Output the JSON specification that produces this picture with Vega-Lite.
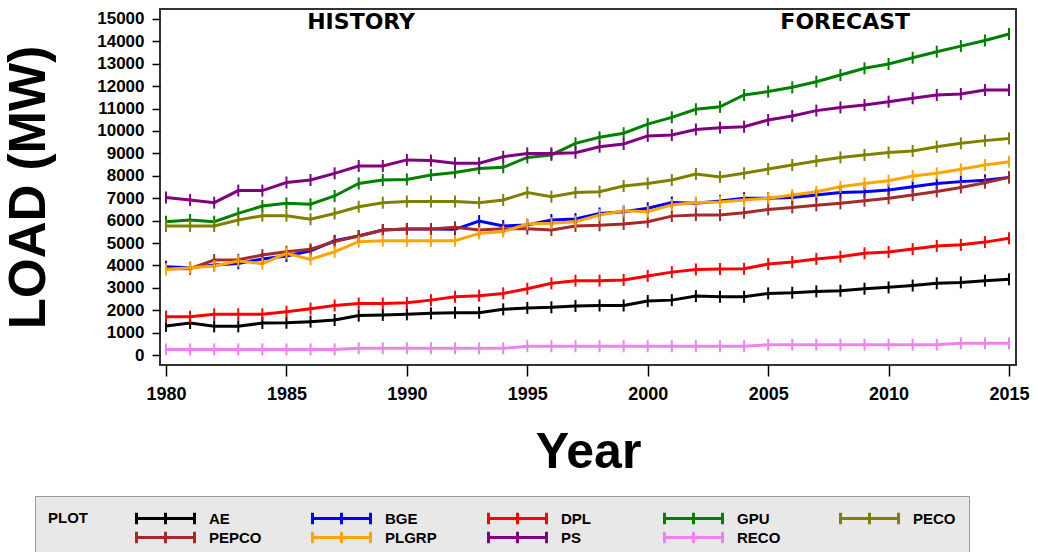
{
"$schema": "https://vega.github.io/schema/vega-lite/v6.json",
"width": 856, "height": 356,
"autosize": {"type": "none"},
"padding": {"left": 160, "top": 9, "right": 21, "bottom": 187},
"background": "white",
"config": {"view": {"stroke": "#333333", "strokeWidth": 2}, "font": "Liberation Sans"},
"datasets": {
"loads": [
{"year":1980,"utility":"AE","load":1300},{"year":1981,"utility":"AE","load":1430},{"year":1982,"utility":"AE","load":1280},{"year":1983,"utility":"AE","load":1280},{"year":1984,"utility":"AE","load":1430},{"year":1985,"utility":"AE","load":1440},{"year":1986,"utility":"AE","load":1490},{"year":1987,"utility":"AE","load":1560},{"year":1988,"utility":"AE","load":1760},{"year":1989,"utility":"AE","load":1790},{"year":1990,"utility":"AE","load":1815},{"year":1991,"utility":"AE","load":1860},{"year":1992,"utility":"AE","load":1890},{"year":1993,"utility":"AE","load":1890},{"year":1994,"utility":"AE","load":2040},{"year":1995,"utility":"AE","load":2100},{"year":1996,"utility":"AE","load":2130},{"year":1997,"utility":"AE","load":2190},{"year":1998,"utility":"AE","load":2210},{"year":1999,"utility":"AE","load":2210},{"year":2000,"utility":"AE","load":2410},{"year":2001,"utility":"AE","load":2450},{"year":2002,"utility":"AE","load":2630},{"year":2003,"utility":"AE","load":2600},{"year":2004,"utility":"AE","load":2600},{"year":2005,"utility":"AE","load":2750},{"year":2006,"utility":"AE","load":2780},{"year":2007,"utility":"AE","load":2840},{"year":2008,"utility":"AE","load":2870},{"year":2009,"utility":"AE","load":2960},{"year":2010,"utility":"AE","load":3020},{"year":2011,"utility":"AE","load":3100},{"year":2012,"utility":"AE","load":3200},{"year":2013,"utility":"AE","load":3240},{"year":2014,"utility":"AE","load":3320},{"year":2015,"utility":"AE","load":3380},
{"year":1980,"utility":"BGE","load":3940},{"year":1981,"utility":"BGE","load":3900},{"year":1982,"utility":"BGE","load":4020},{"year":1983,"utility":"BGE","load":4090},{"year":1984,"utility":"BGE","load":4290},{"year":1985,"utility":"BGE","load":4420},{"year":1986,"utility":"BGE","load":4650},{"year":1987,"utility":"BGE","load":5100},{"year":1988,"utility":"BGE","load":5310},{"year":1989,"utility":"BGE","load":5580},{"year":1990,"utility":"BGE","load":5620},{"year":1991,"utility":"BGE","load":5620},{"year":1992,"utility":"BGE","load":5610},{"year":1993,"utility":"BGE","load":5980},{"year":1994,"utility":"BGE","load":5760},{"year":1995,"utility":"BGE","load":5800},{"year":1996,"utility":"BGE","load":6030},{"year":1997,"utility":"BGE","load":6070},{"year":1998,"utility":"BGE","load":6320},{"year":1999,"utility":"BGE","load":6400},{"year":2000,"utility":"BGE","load":6550},{"year":2001,"utility":"BGE","load":6810},{"year":2002,"utility":"BGE","load":6770},{"year":2003,"utility":"BGE","load":6870},{"year":2004,"utility":"BGE","load":7000},{"year":2005,"utility":"BGE","load":7000},{"year":2006,"utility":"BGE","load":7030},{"year":2007,"utility":"BGE","load":7140},{"year":2008,"utility":"BGE","load":7250},{"year":2009,"utility":"BGE","load":7290},{"year":2010,"utility":"BGE","load":7370},{"year":2011,"utility":"BGE","load":7510},{"year":2012,"utility":"BGE","load":7660},{"year":2013,"utility":"BGE","load":7740},{"year":2014,"utility":"BGE","load":7800},{"year":2015,"utility":"BGE","load":7930},
{"year":1980,"utility":"DPL","load":1710},{"year":1981,"utility":"DPL","load":1710},{"year":1982,"utility":"DPL","load":1815},{"year":1983,"utility":"DPL","load":1815},{"year":1984,"utility":"DPL","load":1815},{"year":1985,"utility":"DPL","load":1935},{"year":1986,"utility":"DPL","load":2070},{"year":1987,"utility":"DPL","load":2210},{"year":1988,"utility":"DPL","load":2300},{"year":1989,"utility":"DPL","load":2300},{"year":1990,"utility":"DPL","load":2330},{"year":1991,"utility":"DPL","load":2450},{"year":1992,"utility":"DPL","load":2600},{"year":1993,"utility":"DPL","load":2650},{"year":1994,"utility":"DPL","load":2750},{"year":1995,"utility":"DPL","load":2960},{"year":1996,"utility":"DPL","load":3200},{"year":1997,"utility":"DPL","load":3320},{"year":1998,"utility":"DPL","load":3320},{"year":1999,"utility":"DPL","load":3350},{"year":2000,"utility":"DPL","load":3530},{"year":2001,"utility":"DPL","load":3700},{"year":2002,"utility":"DPL","load":3820},{"year":2003,"utility":"DPL","load":3840},{"year":2004,"utility":"DPL","load":3850},{"year":2005,"utility":"DPL","load":4060},{"year":2006,"utility":"DPL","load":4150},{"year":2007,"utility":"DPL","load":4290},{"year":2008,"utility":"DPL","load":4390},{"year":2009,"utility":"DPL","load":4540},{"year":2010,"utility":"DPL","load":4600},{"year":2011,"utility":"DPL","load":4730},{"year":2012,"utility":"DPL","load":4870},{"year":2013,"utility":"DPL","load":4920},{"year":2014,"utility":"DPL","load":5040},{"year":2015,"utility":"DPL","load":5210},
{"year":1980,"utility":"GPU","load":5950},{"year":1981,"utility":"GPU","load":6030},{"year":1982,"utility":"GPU","load":5950},{"year":1983,"utility":"GPU","load":6320},{"year":1984,"utility":"GPU","load":6650},{"year":1985,"utility":"GPU","load":6770},{"year":1986,"utility":"GPU","load":6730},{"year":1987,"utility":"GPU","load":7100},{"year":1988,"utility":"GPU","load":7660},{"year":1989,"utility":"GPU","load":7810},{"year":1990,"utility":"GPU","load":7840},{"year":1991,"utility":"GPU","load":8040},{"year":1992,"utility":"GPU","load":8150},{"year":1993,"utility":"GPU","load":8330},{"year":1994,"utility":"GPU","load":8380},{"year":1995,"utility":"GPU","load":8820},{"year":1996,"utility":"GPU","load":8930},{"year":1997,"utility":"GPU","load":9450},{"year":1998,"utility":"GPU","load":9720},{"year":1999,"utility":"GPU","load":9900},{"year":2000,"utility":"GPU","load":10310},{"year":2001,"utility":"GPU","load":10610},{"year":2002,"utility":"GPU","load":10970},{"year":2003,"utility":"GPU","load":11080},{"year":2004,"utility":"GPU","load":11610},{"year":2005,"utility":"GPU","load":11760},{"year":2006,"utility":"GPU","load":11950},{"year":2007,"utility":"GPU","load":12200},{"year":2008,"utility":"GPU","load":12500},{"year":2009,"utility":"GPU","load":12800},{"year":2010,"utility":"GPU","load":12990},{"year":2011,"utility":"GPU","load":13270},{"year":2012,"utility":"GPU","load":13540},{"year":2013,"utility":"GPU","load":13790},{"year":2014,"utility":"GPU","load":14040},{"year":2015,"utility":"GPU","load":14330},
{"year":1980,"utility":"PECO","load":5760},{"year":1981,"utility":"PECO","load":5760},{"year":1982,"utility":"PECO","load":5760},{"year":1983,"utility":"PECO","load":6030},{"year":1984,"utility":"PECO","load":6220},{"year":1985,"utility":"PECO","load":6220},{"year":1986,"utility":"PECO","load":6060},{"year":1987,"utility":"PECO","load":6320},{"year":1988,"utility":"PECO","load":6620},{"year":1989,"utility":"PECO","load":6800},{"year":1990,"utility":"PECO","load":6850},{"year":1991,"utility":"PECO","load":6850},{"year":1992,"utility":"PECO","load":6850},{"year":1993,"utility":"PECO","load":6800},{"year":1994,"utility":"PECO","load":6920},{"year":1995,"utility":"PECO","load":7250},{"year":1996,"utility":"PECO","load":7070},{"year":1997,"utility":"PECO","load":7250},{"year":1998,"utility":"PECO","load":7290},{"year":1999,"utility":"PECO","load":7540},{"year":2000,"utility":"PECO","load":7660},{"year":2001,"utility":"PECO","load":7810},{"year":2002,"utility":"PECO","load":8080},{"year":2003,"utility":"PECO","load":7950},{"year":2004,"utility":"PECO","load":8110},{"year":2005,"utility":"PECO","load":8300},{"year":2006,"utility":"PECO","load":8480},{"year":2007,"utility":"PECO","load":8660},{"year":2008,"utility":"PECO","load":8820},{"year":2009,"utility":"PECO","load":8930},{"year":2010,"utility":"PECO","load":9040},{"year":2011,"utility":"PECO","load":9110},{"year":2012,"utility":"PECO","load":9300},{"year":2013,"utility":"PECO","load":9450},{"year":2014,"utility":"PECO","load":9570},{"year":2015,"utility":"PECO","load":9670},
{"year":1980,"utility":"PEPCO","load":3850},{"year":1981,"utility":"PEPCO","load":3850},{"year":1982,"utility":"PEPCO","load":4240},{"year":1983,"utility":"PEPCO","load":4250},{"year":1984,"utility":"PEPCO","load":4460},{"year":1985,"utility":"PEPCO","load":4610},{"year":1986,"utility":"PEPCO","load":4720},{"year":1987,"utility":"PEPCO","load":5060},{"year":1988,"utility":"PEPCO","load":5310},{"year":1989,"utility":"PEPCO","load":5580},{"year":1990,"utility":"PEPCO","load":5620},{"year":1991,"utility":"PEPCO","load":5620},{"year":1992,"utility":"PEPCO","load":5700},{"year":1993,"utility":"PEPCO","load":5580},{"year":1994,"utility":"PEPCO","load":5640},{"year":1995,"utility":"PEPCO","load":5640},{"year":1996,"utility":"PEPCO","load":5580},{"year":1997,"utility":"PEPCO","load":5760},{"year":1998,"utility":"PEPCO","load":5790},{"year":1999,"utility":"PEPCO","load":5850},{"year":2000,"utility":"PEPCO","load":5950},{"year":2001,"utility":"PEPCO","load":6200},{"year":2002,"utility":"PEPCO","load":6250},{"year":2003,"utility":"PEPCO","load":6250},{"year":2004,"utility":"PEPCO","load":6350},{"year":2005,"utility":"PEPCO","load":6500},{"year":2006,"utility":"PEPCO","load":6590},{"year":2007,"utility":"PEPCO","load":6680},{"year":2008,"utility":"PEPCO","load":6770},{"year":2009,"utility":"PEPCO","load":6890},{"year":2010,"utility":"PEPCO","load":7000},{"year":2011,"utility":"PEPCO","load":7140},{"year":2012,"utility":"PEPCO","load":7300},{"year":2013,"utility":"PEPCO","load":7480},{"year":2014,"utility":"PEPCO","load":7690},{"year":2015,"utility":"PEPCO","load":7930},
{"year":1980,"utility":"PLGRP","load":3820},{"year":1981,"utility":"PLGRP","load":3900},{"year":1982,"utility":"PLGRP","load":3970},{"year":1983,"utility":"PLGRP","load":4200},{"year":1984,"utility":"PLGRP","load":4080},{"year":1985,"utility":"PLGRP","load":4540},{"year":1986,"utility":"PLGRP","load":4270},{"year":1987,"utility":"PLGRP","load":4610},{"year":1988,"utility":"PLGRP","load":5060},{"year":1989,"utility":"PLGRP","load":5100},{"year":1990,"utility":"PLGRP","load":5100},{"year":1991,"utility":"PLGRP","load":5100},{"year":1992,"utility":"PLGRP","load":5100},{"year":1993,"utility":"PLGRP","load":5430},{"year":1994,"utility":"PLGRP","load":5510},{"year":1995,"utility":"PLGRP","load":5850},{"year":1996,"utility":"PLGRP","load":5880},{"year":1997,"utility":"PLGRP","load":5950},{"year":1998,"utility":"PLGRP","load":6250},{"year":1999,"utility":"PLGRP","load":6440},{"year":2000,"utility":"PLGRP","load":6400},{"year":2001,"utility":"PLGRP","load":6700},{"year":2002,"utility":"PLGRP","load":6810},{"year":2003,"utility":"PLGRP","load":6830},{"year":2004,"utility":"PLGRP","load":6920},{"year":2005,"utility":"PLGRP","load":7000},{"year":2006,"utility":"PLGRP","load":7140},{"year":2007,"utility":"PLGRP","load":7290},{"year":2008,"utility":"PLGRP","load":7510},{"year":2009,"utility":"PLGRP","load":7660},{"year":2010,"utility":"PLGRP","load":7780},{"year":2011,"utility":"PLGRP","load":7990},{"year":2012,"utility":"PLGRP","load":8110},{"year":2013,"utility":"PLGRP","load":8290},{"year":2014,"utility":"PLGRP","load":8480},{"year":2015,"utility":"PLGRP","load":8630},
{"year":1980,"utility":"PS","load":7030},{"year":1981,"utility":"PS","load":6920},{"year":1982,"utility":"PS","load":6800},{"year":1983,"utility":"PS","load":7340},{"year":1984,"utility":"PS","load":7340},{"year":1985,"utility":"PS","load":7700},{"year":1986,"utility":"PS","load":7810},{"year":1987,"utility":"PS","load":8110},{"year":1988,"utility":"PS","load":8440},{"year":1989,"utility":"PS","load":8440},{"year":1990,"utility":"PS","load":8710},{"year":1991,"utility":"PS","load":8680},{"year":1992,"utility":"PS","load":8560},{"year":1993,"utility":"PS","load":8560},{"year":1994,"utility":"PS","load":8850},{"year":1995,"utility":"PS","load":9000},{"year":1996,"utility":"PS","load":9000},{"year":1997,"utility":"PS","load":9030},{"year":1998,"utility":"PS","load":9300},{"year":1999,"utility":"PS","load":9420},{"year":2000,"utility":"PS","load":9780},{"year":2001,"utility":"PS","load":9820},{"year":2002,"utility":"PS","load":10070},{"year":2003,"utility":"PS","load":10150},{"year":2004,"utility":"PS","load":10190},{"year":2005,"utility":"PS","load":10490},{"year":2006,"utility":"PS","load":10670},{"year":2007,"utility":"PS","load":10910},{"year":2008,"utility":"PS","load":11050},{"year":2009,"utility":"PS","load":11160},{"year":2010,"utility":"PS","load":11310},{"year":2011,"utility":"PS","load":11460},{"year":2012,"utility":"PS","load":11610},{"year":2013,"utility":"PS","load":11650},{"year":2014,"utility":"PS","load":11830},{"year":2015,"utility":"PS","load":11830},
{"year":1980,"utility":"RECO","load":250},{"year":1981,"utility":"RECO","load":250},{"year":1982,"utility":"RECO","load":250},{"year":1983,"utility":"RECO","load":250},{"year":1984,"utility":"RECO","load":250},{"year":1985,"utility":"RECO","load":250},{"year":1986,"utility":"RECO","load":250},{"year":1987,"utility":"RECO","load":250},{"year":1988,"utility":"RECO","load":300},{"year":1989,"utility":"RECO","load":300},{"year":1990,"utility":"RECO","load":300},{"year":1991,"utility":"RECO","load":300},{"year":1992,"utility":"RECO","load":300},{"year":1993,"utility":"RECO","load":300},{"year":1994,"utility":"RECO","load":300},{"year":1995,"utility":"RECO","load":390},{"year":1996,"utility":"RECO","load":390},{"year":1997,"utility":"RECO","load":390},{"year":1998,"utility":"RECO","load":390},{"year":1999,"utility":"RECO","load":390},{"year":2000,"utility":"RECO","load":390},{"year":2001,"utility":"RECO","load":390},{"year":2002,"utility":"RECO","load":390},{"year":2003,"utility":"RECO","load":390},{"year":2004,"utility":"RECO","load":390},{"year":2005,"utility":"RECO","load":460},{"year":2006,"utility":"RECO","load":460},{"year":2007,"utility":"RECO","load":460},{"year":2008,"utility":"RECO","load":460},{"year":2009,"utility":"RECO","load":460},{"year":2010,"utility":"RECO","load":460},{"year":2011,"utility":"RECO","load":460},{"year":2012,"utility":"RECO","load":460},{"year":2013,"utility":"RECO","load":520},{"year":2014,"utility":"RECO","load":520},{"year":2015,"utility":"RECO","load":520}
],
"labels": [{"label":"HISTORY","year":1988.1,"load":14880},{"label":"FORECAST","year":2008.2,"load":14880}]
},
"encoding": {
  "x": {"field": "year", "type": "quantitative",
    "scale": {"domain": [1979.75, 2015.29], "nice": false, "zero": false},
    "axis": {"values": [1980,1985,1990,1995,2000,2005,2010,2015], "format": "d", "grid": false, "domain": false,
      "tickSize": 11, "tickColor": "#000000", "tickWidth": 1.5,
      "labelFont": "Liberation Sans", "labelFontWeight": "bold", "labelFontSize": 18, "labelColor": "#000000", "labelPadding": 9,
      "title": "Year", "titleFont": "Liberation Sans", "titleFontWeight": "bold", "titleFontSize": 50, "titleColor": "#000000",
      "titleY": 87, "titleBaseline": "middle"}},
  "y": {"field": "load", "type": "quantitative",
    "scale": {"domain": [-446, 15446], "nice": false, "zero": false},
    "axis": {"values": [0,1000,2000,3000,4000,5000,6000,7000,8000,9000,10000,11000,12000,13000,14000,15000], "format": "d", "grid": false, "domain": false,
      "tickSize": 8, "tickColor": "#000000", "tickWidth": 1.5,
      "labelFont": "Liberation Sans", "labelFontWeight": "bold", "labelFontSize": 17, "labelColor": "#000000", "labelPadding": 8,
      "title": "LOAD (MW)", "titleFont": "Liberation Sans", "titleFontWeight": "bold", "titleFontSize": 51, "titleColor": "#000000",
      "titleX": -131, "titleY": 178, "titleAngle": 270, "titleBaseline": "middle", "titleAlign": "center"}}
},
"layer": [
  {"data": {"name": "loads"},
   "mark": {"type": "line", "strokeWidth": 3},
   "encoding": {"color": {"field": "utility", "type": "nominal",
      "scale": {"domain": ["AE","BGE","DPL","GPU","PECO","PEPCO","PLGRP","PS","RECO"], "range": ["#000000","#0000FF","#FF0000","#008000","#808000","#A52A2A","#FFA500","#800080","#EE82EE"]},
      "legend": {"orient": "none", "legendX": -125, "legendY": 487, "direction": "horizontal", "columns": 5,
        "title": "PLOT", "titleOrient": "left", "titleAnchor": "start", "titleFont": "Liberation Sans", "titleFontWeight": "bold", "titleFontSize": 15, "titleColor": "#000000", "titlePadding": 47, "titleBaseline": "line-top", "titleLineHeight": 20,
        "labelFont": "Liberation Sans", "labelFontWeight": "bold", "labelFontSize": 15, "labelColor": "#000000", "labelOffset": 13,
        "symbolType": "M-1,0H1M-1,-0.2V0.2M0,-0.2V0.2M1,-0.2V0.2", "symbolSize": 3364, "symbolStrokeWidth": 3, "symbolFillColor": "transparent",
        "clipHeight": 19, "rowPadding": 0, "columnPadding": 49, "gridAlign": "all",
        "fillColor": "#e8e8e8", "strokeColor": "#999999", "padding": 13}}}},
  {"data": {"name": "loads"},
   "mark": {"type": "point", "shape": "M0,-1V1", "size": 144, "filled": false, "strokeWidth": 2, "opacity": 1},
   "encoding": {"color": {"field": "utility", "type": "nominal",
      "scale": {"domain": ["AE","BGE","DPL","GPU","PECO","PEPCO","PLGRP","PS","RECO"], "range": ["#000000","#0000FF","#FF0000","#008000","#808000","#A52A2A","#FFA500","#800080","#EE82EE"]},
      "legend": {"orient": "none", "legendX": -125, "legendY": 487, "direction": "horizontal", "columns": 5,
        "title": "PLOT", "titleOrient": "left", "titleAnchor": "start", "titleFont": "Liberation Sans", "titleFontWeight": "bold", "titleFontSize": 15, "titleColor": "#000000", "titlePadding": 47, "titleBaseline": "line-top", "titleLineHeight": 20,
        "labelFont": "Liberation Sans", "labelFontWeight": "bold", "labelFontSize": 15, "labelColor": "#000000", "labelOffset": 13,
        "symbolType": "M-1,0H1M-1,-0.2V0.2M0,-0.2V0.2M1,-0.2V0.2", "symbolSize": 3364, "symbolStrokeWidth": 3, "symbolFillColor": "transparent",
        "clipHeight": 19, "rowPadding": 0, "columnPadding": 49, "gridAlign": "all",
        "fillColor": "#e8e8e8", "strokeColor": "#999999", "padding": 13}}}},
  {"data": {"name": "labels"},
   "mark": {"type": "text", "font": "DejaVu Sans", "fontWeight": "bold", "fontSize": 22, "color": "#000000", "baseline": "middle", "align": "center"},
   "encoding": {"text": {"field": "label", "type": "nominal"}}}
]
}
